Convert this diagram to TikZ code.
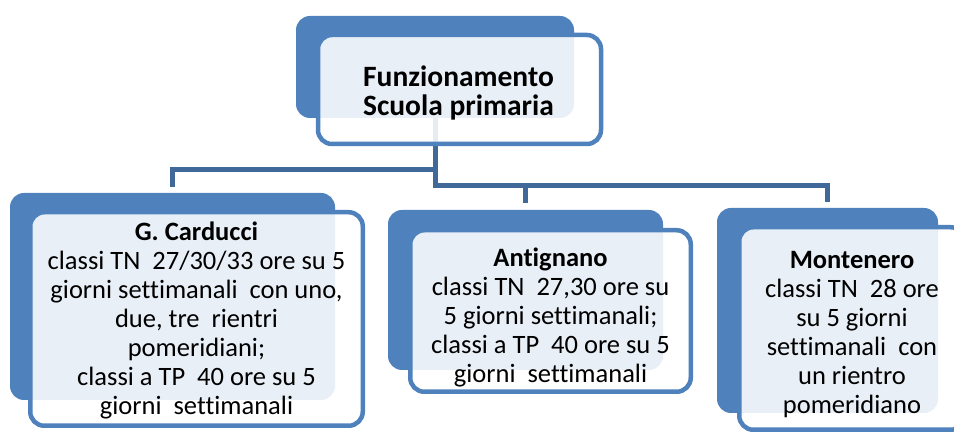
\documentclass[tikz,border=0pt]{standalone}
\usepackage{fontspec}
\setmainfont{Carlito}[Ligatures={NoCommon,NoRequired,NoContextual}]
\definecolor{accent}{RGB}{79,129,189}
\definecolor{connc}{RGB}{64,105,154}
\tikzset{
  shadowbox/.style={rectangle, rounded corners=14pt, fill=accent, draw=none, inner sep=0pt},
  frontbox/.style={rectangle, rounded corners=14pt, draw=accent, line width=4.5pt, fill=white, fill opacity=0.88, inner sep=0pt},
  boxtext/.style={inner sep=0pt, align=center, font=\fontsize{26.5}{29}\selectfont},
  conn/.style={draw=connc, line width=5pt}
}
\begin{document}
\begin{tikzpicture}[x=1pt,y=-1pt]
\useasboundingbox (0,0) rectangle (954,435);
\clip (0,0) rectangle (954,435);
% shadow boxes
\node[shadowbox, minimum width=278pt, minimum height=102pt] (tops) at (435,67) {};
\node[shadowbox, minimum width=325pt, minimum height=207pt] (cars) at (172.5,296.5) {};
\node[shadowbox, minimum width=275pt, minimum height=160pt] (ants) at (525.5,290) {};
\node[shadowbox, minimum width=221pt, minimum height=205pt] (monts) at (827.5,310.5) {};
% connectors
\draw[conn] (tops.south) -- (tops.south |- 0,170) -| ([yshift=6pt]cars.north);
\draw[conn] (tops.south |- 0,170) -- (tops.south |- 0,186) -| ([yshift=6pt]monts.north);
\draw[conn] (ants.north |- 0,186) -- ([yshift=7pt]ants.north);
% front boxes
\node[frontbox, minimum width=283pt, minimum height=109pt] (topf) at (459.5,89.5) {};
\node[frontbox, minimum width=332.5pt, minimum height=213.5pt] (carf) at (196.5,319) {};
\node[frontbox, minimum width=280.5pt, minimum height=161.5pt] (antf) at (550.5,311) {};
\node[frontbox, minimum width=225.5pt, minimum height=202.5pt] (montf) at (852,328.5) {};
% texts
\node[boxtext, font=\fontsize{29.5}{29.5}\selectfont\bfseries] (topt) at (458.5,93)
  {Funzionamento\\Scuola primaria};
\node[boxtext] (cart) at (196.5,320)
  {\textbf{G. Carducci}\\classi TN\ \ 27/30/33 ore su 5\\giorni settimanali\ \ con uno,\\due, tre\ \ rientri\\pomeridiani;\\classi a TP\ \ 40 ore su 5\\giorni\ \ settimanali};
\node[boxtext] (antt) at (550.5,317)
  {\textbf{Antignano}\\classi TN\ \ 27,30 ore su\\5 giorni settimanali;\\classi a TP\ \ 40 ore su 5\\giorni\ \ settimanali};
\node[boxtext] (montt) at (852,335)
  {\textbf{Montenero}\\classi TN\ \ 28 ore\\su 5 giorni\\settimanali\ \ con\\un rientro\\pomeridiano};
\end{tikzpicture}
\end{document}
